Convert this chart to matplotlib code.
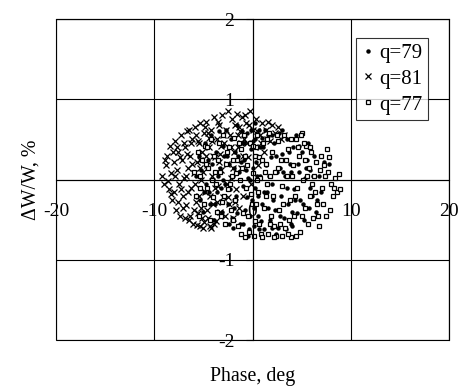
import matplotlib
matplotlib.use("Agg")
import matplotlib.pyplot as plt
from matplotlib.patches import Rectangle
from matplotlib.ticker import FuncFormatter

plt.rcParams["font.family"] = ["Liberation Serif", "DejaVu Serif"]

# q=79 (dots)
q79_x = [-5.8, -5.5, -5.4, -5.2, -5.0, -4.8, -4.7, -4.5, -4.3, -4.2, -4.0, -3.9, -3.7, -3.6, -3.4,
         -3.3, -3.1, -3.0, -2.8, -2.7, -2.5, -2.4, -2.2, -2.1, -2.0, -1.8, -1.7, -1.6, -1.4, -1.3,
         -1.2, -1.0, -0.9, -0.8, -0.6, -0.5, -0.4, -0.2, -0.1, 0.0, 0.1, 0.2, 0.3, 0.5, 0.6,
         0.7, 0.8, 1.0, 1.1, 1.2, 1.4, 1.5, 1.6, 1.8, 1.9, 2.0, 2.2, 2.3, 2.5, 2.6,
         2.7, 2.9, 3.0, 3.2, 3.3, 3.5, 3.6, 3.8, 3.9, 4.1, 4.2, 4.4, 4.5, 4.7, 4.8,
         5.0, 5.2, 5.3, 5.5, 5.7, 5.9, 6.1, 6.3, 6.5, 6.8, 7.0, 7.3, 7.8,
         -2.6, -1.9, -1.1, -0.3, 0.4, 0.9, 1.3, 2.1, 2.8, 3.4, -3.5, -4.4, -0.7, 1.7, 3.7,
         4.6, -2.3, 0.6, 2.4, -0.5, 4.0, 5.6, -1.5, 0.2,
         -4.9, -4.1, -3.8, -3.2, -2.9, -2.4, -1.9, -1.6, -1.2, -0.9, -0.6, -0.2, 0.1, 0.5, 0.8,
         1.2, 1.6, 2.0, 2.4, 2.8, 3.1, 3.5, 3.9, 4.3, 4.7, 5.1, 5.4, 5.8, 6.2, 6.6,
         -3.0, -2.0, -1.0, 0.0, 1.0, 2.0, 3.0, 4.0, -0.3, 0.7]
q79_y = [0.05, 0.30, -0.25, 0.12, -0.40, 0.45, -0.05, 0.25, -0.30, 0.55, 0.00, -0.50, 0.35, -0.15, 0.60,
         0.15, -0.40, 0.42, -0.05, 0.62, -0.30, 0.20, 0.50, -0.48, 0.05, 0.35, -0.20, 0.68, 0.10, -0.55,
         0.45, -0.08, 0.25, -0.38, 0.58, 0.02, -0.62, 0.38, -0.25, 0.15, -0.58, 0.50, -0.10, 0.30, -0.45,
         0.62, 0.05, -0.30, 0.40, -0.62, 0.18, -0.15, 0.55, -0.50, 0.28, -0.05, 0.45, -0.38, 0.10, -0.60,
         0.58, -0.20, 0.32, -0.48, 0.05, 0.50, -0.30, 0.20, -0.55, 0.40, -0.12, 0.55, -0.42, 0.10, -0.25,
         0.35, -0.50, 0.02, 0.25, -0.35, 0.12, -0.20, 0.30, -0.40, 0.05, -0.15, 0.22, 0.20,
         0.30, -0.35, 0.60, -0.45, 0.22, -0.52, 0.62, -0.25, 0.15, -0.62, 0.05, -0.15, 0.12, 0.05, 0.35,
         0.20, -0.12, -0.20, -0.68, -0.70, -0.40, 0.45, 0.30, 0.70,
         -0.15, 0.20, -0.30, -0.10, 0.30, -0.55, 0.15, -0.42, 0.22, 0.45, -0.22, 0.62, -0.35, 0.05, 0.40,
         -0.15, -0.35, 0.55, 0.30, -0.45, 0.10, -0.10, 0.10, -0.25, 0.42, -0.30, 0.15, -0.10, 0.05, -0.25,
         0.00, -0.60, -0.55, 0.48, 0.52, -0.60, 0.62, -0.58, 0.00, -0.62]

# q=81 (crosses)
q81_x = [-9.2, -9.0, -8.8, -8.7, -8.5, -8.4, -8.3, -8.2, -8.0, -7.9, -7.8, -7.7, -7.6, -7.5, -7.4,
         -7.3, -7.2, -7.1, -7.0, -6.9, -6.8, -6.7, -6.6, -6.5, -6.4, -6.3, -6.2, -6.1, -6.0, -5.9,
         -5.8, -5.7, -5.6, -5.5, -5.4, -5.3, -5.2, -5.1, -5.0, -4.9, -4.8, -4.7, -4.6, -4.5, -4.4,
         -4.3, -4.2, -4.1, -4.0, -3.9, -3.8, -3.7, -3.6, -3.5, -3.4, -3.3, -3.2, -3.1, -3.0, -2.9,
         -2.8, -2.7, -2.6, -2.5, -2.4, -2.3, -2.2, -2.1, -2.0, -1.9, -1.8, -1.7, -1.6, -1.5, -1.4,
         -1.3, -1.2, -1.1, -1.0, -0.9, -0.7, -0.5, -0.3, -0.2, 0.0, 0.2, 0.4, 0.6, 0.8, 1.0,
         1.2, 1.4, 1.6, 1.8, 2.0, 2.3, 2.6, 2.9, 3.2,
         -8.6, -8.1, -7.6, -7.0, -6.6, -6.2, -5.8, -5.5, -5.0, -4.6, -4.4, -4.0, -3.6, -3.2, -6.8,
         -7.3, -6.0, -5.3, -4.8, -3.9, -5.7, -4.9, -6.4, -4.2,
         -8.9, -8.3, -7.9, -7.4, -7.1, -6.7, -6.3, -5.9, -5.6, -5.2, -4.7, -4.3, -3.8, -3.4, -3.0,
         -2.6, -2.2, -1.8, -1.4, -1.0, -0.6, -6.9, -6.5, -5.4, -4.5, -3.5, -2.5, -1.5, -0.8, 0.5,
         1.5, -7.7, -8.0, -5.1, -4.1, -3.3, -2.0, -1.2, -0.4, 0.9]
q81_y = [0.05, -0.05, 0.18, 0.30, -0.12, 0.42, 0.08, -0.25, 0.22, 0.48, -0.38, 0.12, 0.35, -0.05, -0.45,
         0.55, 0.25, -0.20, 0.02, 0.40, -0.32, 0.60, 0.15, -0.50, 0.30, -0.10, 0.50, -0.55, 0.08, 0.65,
         -0.28, 0.22, -0.42, 0.45, -0.58, 0.70, 0.00, 0.35, -0.60, 0.58, -0.15, 0.72, 0.18, -0.48, 0.40,
         -0.58, 0.62, 0.05, -0.30, 0.78, 0.28, -0.52, 0.50, -0.08, 0.68, -0.40, 0.12, 0.80, -0.22, 0.45,
         -0.45, 0.62, 0.20, 0.85, -0.30, 0.55, 0.02, 0.75, -0.48, 0.35, 0.68, -0.12, 0.82, 0.40, -0.35,
         0.60, 0.15, 0.78, -0.20, 0.50, 0.70, 0.28, 0.85, -0.05, 0.62, 0.40, 0.75, 0.18, 0.55, 0.70,
         0.35, 0.62, 0.72, 0.48, 0.68, 0.58, 0.65, 0.50, 0.55,
         -0.02, 0.35, -0.28, 0.45, -0.15, 0.20, 0.55, -0.20, 0.10, -0.38, 0.52, 0.30, -0.28, 0.42, 0.05,
         -0.12, -0.38, 0.25, 0.65, -0.55, -0.56, -0.53, -0.45, -0.60,
         0.25, -0.18, 0.05, 0.28, -0.35, 0.32, 0.45, -0.05, 0.48, -0.35, 0.30, -0.20, -0.10, 0.22, 0.55,
         -0.05, 0.40, -0.28, 0.65, 0.30, 0.45, -0.48, 0.62, 0.15, 0.58, 0.72, -0.22, 0.55, 0.80, 0.60,
         0.50, 0.40, -0.15, -0.48, 0.48, 0.32, 0.15, 0.45, 0.68, 0.45]

# q=77 (open squares)
q77_x = [-6.0, -5.8, -5.6, -5.5, -5.3, -5.1, -4.9, -4.8, -4.6, -4.5, -4.3, -4.2, -4.0, -3.9, -3.7,
         -3.6, -3.4, -3.3, -3.1, -3.0, -2.8, -2.7, -2.5, -2.4, -2.2, -2.1, -1.9, -1.8, -1.6, -1.5,
         -1.3, -1.2, -1.0, -0.9, -0.7, -0.6, -0.4, -0.3, -0.1, 0.0, 0.2, 0.3, 0.5, 0.6, 0.8,
         0.9, 1.1, 1.2, 1.4, 1.5, 1.7, 1.8, 2.0, 2.1, 2.3, 2.4, 2.6, 2.7, 2.9, 3.0,
         3.2, 3.3, 3.5, 3.6, 3.8, 3.9, 4.1, 4.2, 4.4, 4.5, 4.7, 4.8, 5.0, 5.1, 5.3,
         5.4, 5.6, 5.7, 5.9, 6.0, 6.2, 6.3, 6.5, 6.6, 6.8, 7.0, 7.1, 7.3, 7.5, 7.6,
         7.8, 7.9, 8.0, 8.2, 8.4, 8.6, 8.8, 8.9,
         -1.2, -0.8, 0.1, 1.0, 1.6, 2.2, 3.0, 3.6, 4.4, -2.0, -3.5, -4.6, 0.4, 1.3, 2.5,
         3.9, 4.9, 5.2, 6.9, 7.4, -0.2, 1.9, -2.9, 0.7,
         -5.4, -4.7, -4.1, -3.8, -3.2, -2.6, -2.3, -1.7, -1.4, -1.1, -0.5, 0.0, 0.4, 0.7, 1.0,
         1.4, 1.8, 2.2, 2.6, 3.1, 3.4, 3.7, 4.3, 4.6, 5.0, 5.5, 5.8, 6.1, 6.4, 7.2,
         7.7, 8.3, -2.0, -0.8, 0.5, 1.5, 2.8, 4.0, 5.3, 6.7]
q77_y = [0.10, -0.20, 0.35, -0.45, 0.05, 0.25, -0.30, 0.42, -0.10, 0.15, -0.50, 0.50, -0.22, 0.30, -0.05,
         -0.40, 0.45, 0.10, -0.28, 0.55, -0.55, 0.20, -0.12, 0.40, -0.38, 0.05, 0.52, -0.25, 0.25, -0.58,
         0.00, 0.38, -0.42, 0.55, -0.10, 0.18, -0.65, 0.45, -0.30, 0.08, 0.30, -0.52, 0.55, -0.15, 0.02,
         -0.68, 0.45, -0.35, 0.20, -0.05, 0.58, -0.55, 0.35, -0.20, 0.10, -0.70, 0.48, -0.38, 0.25, -0.08,
         0.55, -0.60, 0.05, 0.38, -0.25, -0.72, 0.18, -0.45, 0.50, -0.10, 0.30, -0.65, 0.58, 0.00, -0.35,
         0.42, -0.55, 0.15, -0.20, 0.35, -0.48, 0.05, 0.22, -0.30, -0.58, 0.30, -0.10, 0.18, -0.45, 0.38,
         0.28, -0.38, -0.05, -0.20, 0.02, -0.15, 0.07, -0.12,
         -0.68, -0.72, -0.70, -0.72, -0.68, -0.72, -0.70, -0.68, -0.70, 0.25, 0.25, 0.40, 0.40, 0.10, 0.55,
         0.50, 0.55, 0.45, 0.12, 0.05, -0.18, -0.45, -0.20, 0.28,
         -0.10, 0.20, 0.00, 0.10, -0.45, 0.35, -0.05, 0.08, 0.45, 0.15, -0.45, 0.42, -0.30, -0.55, 0.25,
         -0.20, 0.05, -0.58, 0.15, -0.30, 0.25, -0.50, -0.20, 0.40, -0.45, 0.05, 0.40, -0.05, -0.15, -0.30,
         0.10, -0.10, -0.50, 0.30, 0.00, 0.50, -0.55, 0.05, 0.25, -0.45]

x_ticks = [-20, -10, 0, 10, 20]
y_ticks = [-2, -1, 0, 1, 2]


def main():
    fig = plt.figure(figsize=(4.6, 3.9), dpi=100)
    ax = fig.add_axes([0.122, 0.128, 0.854, 0.823])

    ax.plot(q79_x, q79_y, linestyle="none", marker="o", ms=2.2, mfc="black", mec="black",
            label="q=79")
    ax.plot(q81_x, q81_y, linestyle="none", marker="x", ms=4.5, mew=0.9, color="black",
            label="q=81")
    ax.plot(q77_x, q77_y, linestyle="none", marker="s", ms=3.4, mew=0.9, mfc="white",
            mec="black", label="q=77")

    ax.set_xlim(-20, 20)
    ax.set_ylim(-2, 2)
    ax.set_xticks(x_ticks)
    ax.set_yticks(y_ticks)
    ax.grid(True, color="black", linewidth=0.8)
    ax.set_axisbelow(True)

    # axes cross at the origin; plot box drawn separately
    ax.spines["left"].set_position("zero")
    ax.spines["bottom"].set_position("zero")
    for side in ["left", "bottom", "top", "right"]:
        ax.spines[side].set_linewidth(0.8)
    ax.add_patch(Rectangle((0, 0), 1, 1, transform=ax.transAxes, fill=False,
                           edgecolor="black", linewidth=0.8, clip_on=False, zorder=0.5))

    ax.yaxis.set_major_formatter(FuncFormatter(lambda v, p: "" if v == 0 else f"{v:g}"))
    ax.xaxis.set_major_formatter(FuncFormatter(lambda v, p: f"{v:g}"))
    ax.tick_params(axis="y", direction="out", length=5, width=0.8, pad=8, labelsize=14)
    ax.tick_params(axis="x", direction="out", length=0, width=0.8, pad=17, labelsize=14)

    ax.set_xlabel("Phase, deg", fontsize=14.3)
    ax.set_ylabel("ΔW/W, %", fontsize=14.3)
    ax.xaxis.set_label_coords(0.5, -0.085)
    ax.yaxis.set_label_coords(-0.04, 0.5)

    leg = ax.legend(loc="upper right", bbox_to_anchor=(0.947, 0.941), borderaxespad=0,
                    fontsize=15, frameon=True, fancybox=False, handlelength=0.7,
                    handletextpad=0.2, borderpad=0.25, labelspacing=0.3)
    leg.get_frame().set_edgecolor("black")
    leg.get_frame().set_linewidth(0.8)

    fig.savefig("out.png", dpi=100)
    plt.close(fig)


if __name__ == "__main__":
    main()
